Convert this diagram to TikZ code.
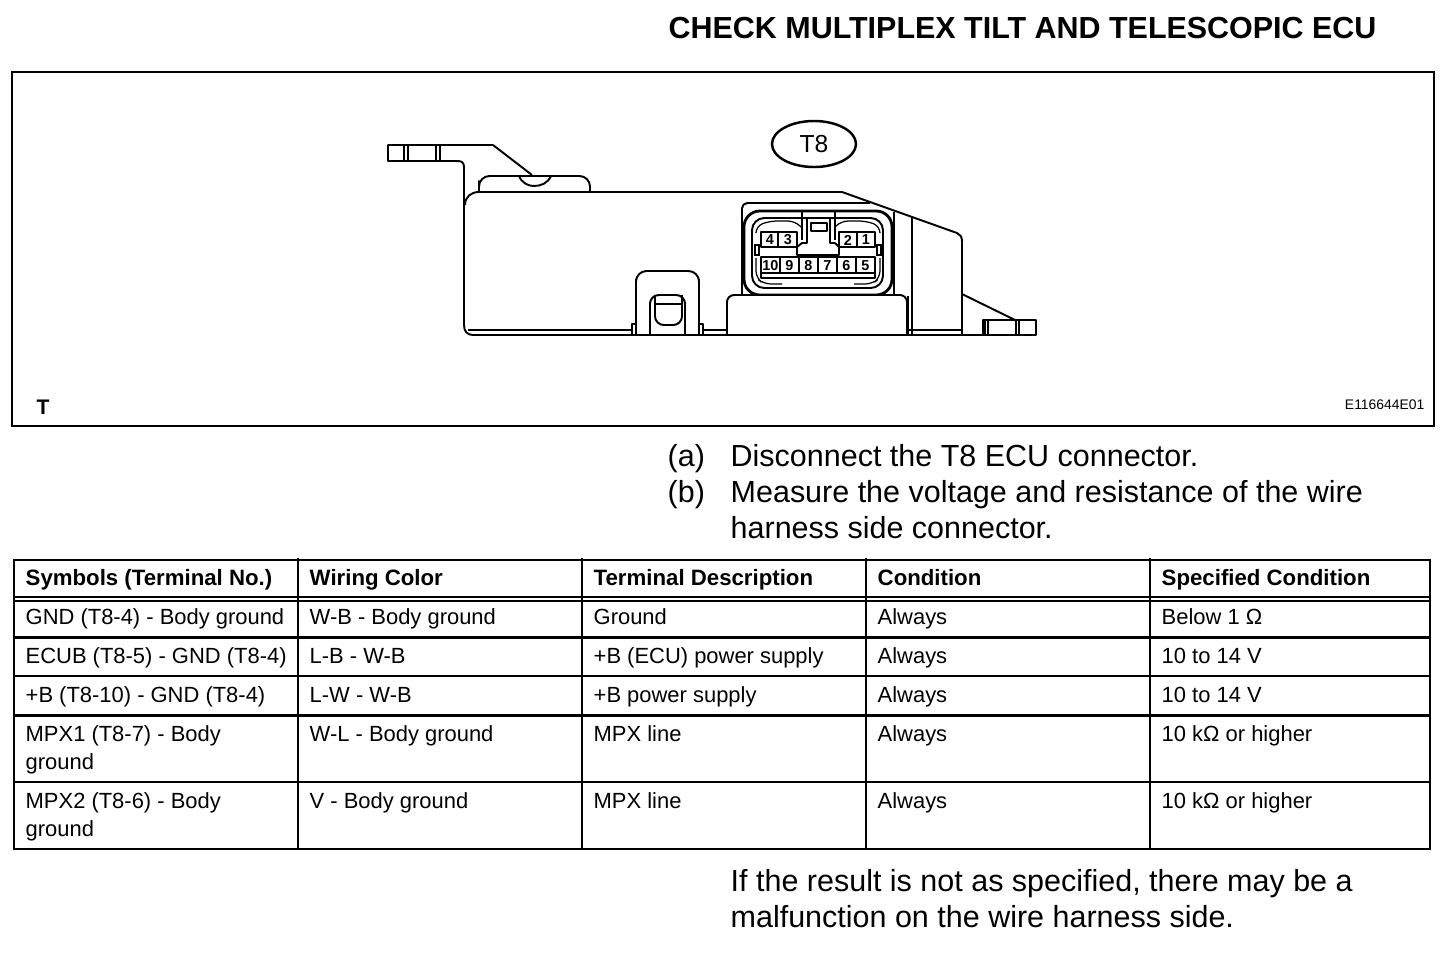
\documentclass[tikz,border=0pt]{standalone}
\usepackage{fontspec}
\usetikzlibrary{shapes.geometric}
\setmainfont{Liberation Sans}
\tikzset{
  cell/.style={anchor=base west, inner sep=0pt, font=\fontsize{6.24pt}{8pt}\selectfont},
  headcell/.style={cell, font=\fontsize{6.32pt}{8pt}\selectfont\bfseries},
  para/.style={anchor=base west, inner sep=0pt, font=\fontsize{8.67pt}{10pt}\selectfont},
  pin/.style={inner sep=0pt, font=\fontsize{4.1pt}{5pt}\selectfont\bfseries},
  part/.style={line width=0.55pt, line join=round},
  fine/.style={line width=0.35pt},
  rule/.style={line width=0.6pt},
  heavy/.style={line width=0.85pt}
}
\begin{document}
\begin{tikzpicture}[x=0.01cm, y=-0.01cm]
  \useasboundingbox (0,0) rectangle (1456,960);

  % Title and frame
  \draw (668,38) node(title) [anchor=base west, inner sep=0pt, font=\fontsize{8.66pt}{10pt}\selectfont\bfseries] {CHECK MULTIPLEX TILT AND TELESCOPIC ECU};
  \draw[rule] (12,72) rectangle (1434,426);
  \draw (36,414) node(tag) [anchor=base west, inner sep=0pt, font=\fontsize{6pt}{7pt}\selectfont\bfseries] {T};
  \draw (1425,409) node(code) [anchor=base east, inner sep=0pt, font=\fontsize{3.95pt}{5pt}\selectfont] {E116644E01};
  \draw (814,144) node(t8) [ellipse, draw, line width=0.7pt, inner sep=0pt, minimum width=0.84cm, minimum height=0.46cm, font=\fontsize{7pt}{8pt}\selectfont] {T8};

  % Bracket
  \draw[part] (493,145) -- (388,145) -- (388,161) -- (458,161) .. controls (462,161) and (464,163) .. (464,167) -- (464,325) .. controls (464,331) and (467,335) .. (473,335);
  \draw[part] (493,145) -- (532,175);
  \draw[part] (404,145) -- (404,161) (408,145) -- (408,161) (436,145) -- (436,161) (440,145) -- (440,161);
  \draw[part] (479,192) -- (479,181) [rounded corners=3pt] -- (479,176) -- (590,176) [sharp corners] -- (590,192);
  \draw[part] (519,176) .. controls (522,183) and (528,186) .. (534,186) .. controls (541,186) and (548,183) .. (551,176);

  % Housing
  \draw[part] (465,205) .. controls (465,197) and (471,192) .. (479,192) -- (842,192) -- (957,233) .. controls (960,234) and (962,237) .. (962,241) -- (962,335);
  \draw[part] (468,330) -- (632,330) (703,330) -- (727,330) (907,330) -- (962,330);
  \draw[part] (962,294) -- (1015,320);
  \draw[part] (912,217) -- (912,335);
  \draw[fine] (908,296) -- (908,335);

  % Right tab
  \draw[part] (983,320) rectangle (1036,335);
  \draw[part] (985,320) -- (985,335) (988,320) -- (988,335) (1016,320) -- (1016,335) (1019,320) -- (1019,335);

  % Clip
  \draw[part] (636,335) -- (636,279) [rounded corners=3pt] -- (636,271) -- (699,271) [sharp corners] -- (699,279) -- (699,335);
  \draw[part] (632,335) -- (632,324) -- (636,324) (703,335) -- (703,324) -- (699,324);
  \draw[part] (650,335) -- (650,302) [rounded corners=2.5pt] -- (650,295) -- (685,295) [sharp corners] -- (685,302) -- (685,335);
  \draw[part] [rounded corners=2.5pt] (655,295) -- (655,325) -- (682,325) -- (682,295);
  \draw[part] (655,304) -- (682,304);

  % Connector
  \draw[part] (742,295) -- (742,208) [rounded corners=1.5pt] -- (742,203) -- (870,203);
  \draw[part] (894,212) -- (894,295);
  \draw[line width=0.8pt, rounded corners=4.5pt] (744,211) rectangle (892,295);
  \draw[part, rounded corners=3.5pt] (752,218) rectangle (883,288);
  \draw[part, fill=white, rounded corners=2pt] (727,335) -- (727,295) -- (907,295) -- (907,335);
  \draw[part] (473,335) -- (1036,335);

  % Inner keys
  \draw[fine, rounded corners=2pt] (756,232) -- (756,226) -- (770,221) -- (795,221) -- (801,227);
  \draw[fine, rounded corners=2pt] (880,232) -- (880,226) -- (866,221) -- (841,221) -- (835,227);
  \draw[fine, rounded corners=2pt] (756,258) -- (756,278) -- (764,284) -- (782,284) (880,258) -- (880,278) -- (872,284) -- (854,284);
  \draw[fine] (755,245) rectangle (759,255) (877,245) rectangle (881,255);
  \draw[part] (797,247) -- (797,255) -- (839,255) -- (839,247) -- (835,243) (797,247) -- (802,243) -- (807,243) -- (807,218) (830,218) -- (830,243) -- (835,243);
  \draw[part] (811,223) rectangle (827,231);
  \draw[fine] (802,212) -- (802,240) (835,212) -- (835,240);

  % Terminals
  \draw[part] (761,232) rectangle (797,247);
  \draw[part] (778,232) -- (778,247);
  \draw[part] (839,232) rectangle (875,247);
  \draw[part] (857,232) -- (857,247);
  \draw[part] (761,257) rectangle (875,273);
  \foreach \x in {780,799,818,837,856}
    \draw[part] (\x,257) -- (\x,273);
  \draw[part] (761,273) -- (761,278) -- (875,278) -- (875,273);
  \draw (770,240) node(pin4) [pin] {4};
  \draw (788,240) node(pin3) [pin] {3};
  \draw (848,240) node(pin2) [pin] {2};
  \draw (866,240) node(pin1) [pin] {1};
  \draw (770.5,265.5) node(pin10) [pin] {10};
  \draw (789.5,265.5) node(pin9) [pin] {9};
  \draw (808.5,265.5) node(pin8) [pin] {8};
  \draw (827.5,265.5) node(pin7) [pin] {7};
  \draw (846.5,265.5) node(pin6) [pin] {6};
  \draw (865.5,265.5) node(pin5) [pin] {5};

  % Steps
  \draw (667,466) node(a) [para] {(a)};
  \draw (730,466) node(atext) [para] {Disconnect the T8 ECU connector.};
  \draw (667,502) node(b) [para] {(b)};
  \draw (730,502) node(btext) [para] {Measure the voltage and resistance of the wire};
  \draw (730,538) node(bmore) [para] {harness side connector.};

  % Table rules
  \draw[rule] (14,560) rectangle (1430,849);
  \foreach \x in {298,582,866,1150}
    \draw[rule] (\x,558) -- (\x,849);
  \foreach \y in {597,601,676,782}
    \draw[rule] (14,\y) -- (1430,\y);
  \foreach \y in {637,715}
    \draw[heavy] (14,\y) -- (1430,\y);

  % Table head
  \draw (25,585) node(h1) [headcell] {Symbols (Terminal No.)};
  \draw (309,585) node(h2) [headcell] {Wiring Color};
  \draw (593,585) node(h3) [headcell] {Terminal Description};
  \draw (877,585) node(h4) [headcell] {Condition};
  \draw (1161,585) node(h5) [headcell] {Specified Condition};

  % Table rows
  \draw (25,624) node(s1) [cell] {GND (T8-4) - Body ground};
  \draw (309,624) node(w1) [cell] {W-B - Body ground};
  \draw (593,624) node(d1) [cell] {Ground};
  \draw (877,624) node(c1) [cell] {Always};
  \draw (1161,624) node(v1) [cell] {Below 1 Ω};

  \draw (25,663) node(s2) [cell] {ECUB (T8-5) - GND (T8-4)};
  \draw (309,663) node(w2) [cell] {L-B - W-B};
  \draw (593,663) node(d2) [cell] {+B (ECU) power supply};
  \draw (877,663) node(c2) [cell] {Always};
  \draw (1161,663) node(v2) [cell] {10 to 14 V};

  \draw (25,702) node(s3) [cell] {+B (T8-10) - GND (T8-4)};
  \draw (309,702) node(w3) [cell] {L-W - W-B};
  \draw (593,702) node(d3) [cell] {+B power supply};
  \draw (877,702) node(c3) [cell] {Always};
  \draw (1161,702) node(v3) [cell] {10 to 14 V};

  \draw (25,741) node(s4) [cell] {MPX1 (T8-7) - Body};
  \draw (25,769) node(s4b) [cell] {ground};
  \draw (309,741) node(w4) [cell] {W-L - Body ground};
  \draw (593,741) node(d4) [cell] {MPX line};
  \draw (877,741) node(c4) [cell] {Always};
  \draw (1161,741) node(v4) [cell] {10 kΩ or higher};

  \draw (25,808) node(s5) [cell] {MPX2 (T8-6) - Body};
  \draw (25,836) node(s5b) [cell] {ground};
  \draw (309,808) node(w5) [cell] {V - Body ground};
  \draw (593,808) node(d5) [cell] {MPX line};
  \draw (877,808) node(c5) [cell] {Always};
  \draw (1161,808) node(v5) [cell] {10 kΩ or higher};

  % Closing note
  \draw (730,891) node(note) [para] {If the result is not as specified, there may be a};
  \draw (730,927) node(notemore) [para] {malfunction on the wire harness side.};
\end{tikzpicture}
\end{document}
